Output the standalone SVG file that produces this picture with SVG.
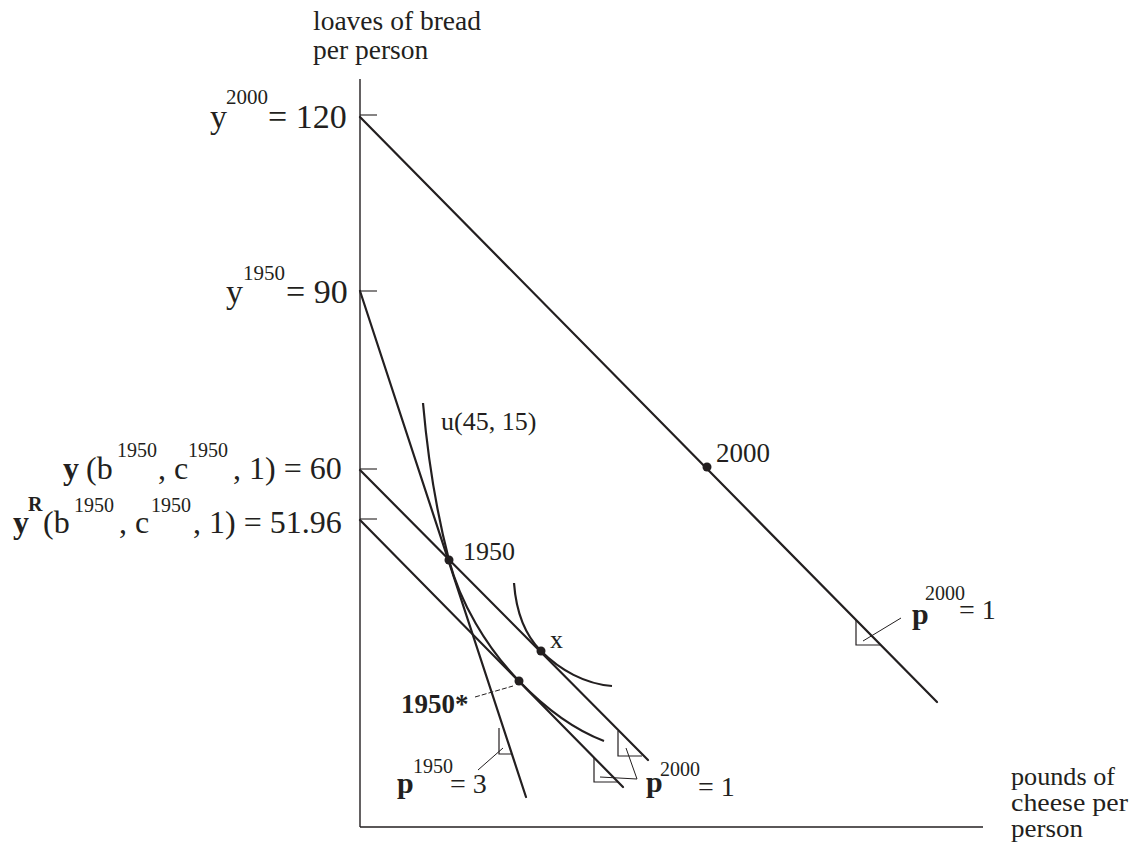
<svg xmlns="http://www.w3.org/2000/svg" width="1133" height="846" viewBox="0 0 1133 846">
<style>
text{font-family:"Liberation Serif","Times New Roman",serif;fill:#231f20}
.ax{stroke:#231f20;stroke-width:1.4;fill:none}
.tk{stroke:#231f20;stroke-width:1.1;fill:none}
.bl{stroke:#231f20;stroke-width:2.2;fill:none;stroke-linecap:round}
.ic{stroke:#231f20;stroke-width:2.2;fill:none}
.ra{stroke:#231f20;stroke-width:1.2;fill:none}
.ld{stroke:#231f20;stroke-width:1;fill:none}
.dot{fill:#231f20}
.b{font-weight:bold}
</style>
<rect width="1133" height="846" fill="#fff"/>
<g id="axes">
<line class="ax" x1="360" y1="79" x2="360" y2="827"/>
<line class="ax" x1="360" y1="827" x2="983" y2="827"/>
<line class="tk" x1="360" y1="115" x2="377" y2="115"/>
<line class="tk" x1="360" y1="291" x2="377" y2="291"/>
<line class="tk" x1="360" y1="469" x2="377" y2="469"/>
<line class="tk" x1="360" y1="519" x2="377" y2="519"/>
<text font-size="27.5"><tspan x="313" y="30">loaves of bread</tspan><tspan x="313" y="59">per person</tspan></text>
<text font-size="25"><tspan x="1011" y="785" textLength="104" lengthAdjust="spacingAndGlyphs">pounds of</tspan><tspan x="1011" y="811" textLength="117" lengthAdjust="spacingAndGlyphs">cheese per</tspan><tspan x="1011" y="837" textLength="72" lengthAdjust="spacingAndGlyphs">person</tspan></text>
</g>
<g id="axis-labels">
<text font-size="34"><tspan x="210" y="128">y</tspan><tspan x="226" y="104" font-size="21">2000</tspan><tspan x="268" y="128">= 120</tspan></text>
<text font-size="34"><tspan x="226" y="303">y</tspan><tspan x="243" y="280" font-size="21">1950</tspan><tspan x="286" y="303">= 90</tspan></text>
<text font-size="32"><tspan x="63" y="479" class="b">y</tspan><tspan x="86" y="479">(b</tspan><tspan x="117" y="457" font-size="20">1950</tspan><tspan x="158" y="479">, c</tspan><tspan x="188" y="457" font-size="20">1950</tspan><tspan x="233" y="479">, 1) = 60</tspan></text>
<text font-size="32"><tspan x="13" y="533" class="b">y</tspan><tspan x="28" y="511" font-size="20" class="b">R</tspan><tspan x="43" y="533">(b</tspan><tspan x="74" y="512" font-size="20">1950</tspan><tspan x="119" y="533">, c</tspan><tspan x="151" y="512" font-size="20">1950</tspan><tspan x="193" y="533">, 1) = 51.96</tspan></text>
</g>
<g id="connectors">
<line class="bl" x1="360" y1="117" x2="937" y2="702"/>
<line class="bl" x1="360" y1="291" x2="526" y2="797"/>
<line class="bl" x1="360" y1="470" x2="648" y2="760"/>
<line class="bl" x1="360" y1="520" x2="623" y2="787"/>
</g>
<g id="indifference-u">
<path class="ic" d="M423,403 C428,460 436,510 449,560 C460,602 486,647 519,681 C545,708 575,730 604,741"/>
<text font-size="26" x="441" y="430">u(45, 15)</text>
</g>
<g id="indifference-x">
<path class="ic" d="M514,583 C516,610 525,635 541,651 C560,670 585,684 612,686"/>
</g>
<g id="point-2000">
<circle class="dot" cx="707" cy="467" r="4.5"/>
<text font-size="27" x="716" y="462">2000</text>
</g>
<g id="point-1950">
<circle class="dot" cx="449" cy="560" r="4.5"/>
<text font-size="26" x="463" y="560">1950</text>
</g>
<g id="point-x">
<circle class="dot" cx="541" cy="651" r="4.5"/>
<text font-size="26" x="550" y="648">x</text>
</g>
<g id="point-1950star">
<circle class="dot" cx="519" cy="681" r="4.5"/>
<line class="ld" x1="475" y1="697" x2="513" y2="686" stroke-dasharray="5 2"/>
<text font-size="27" class="b" x="401" y="713">1950*</text>
</g>
<g id="price-2000-top">
<polyline class="ra" points="856,620 856,645 881,645"/>
<line class="ld" x1="863" y1="641" x2="901" y2="618"/>
<text font-size="30"><tspan x="912" y="624" class="b">p</tspan><tspan x="925" y="600" font-size="20">2000</tspan><tspan x="959" y="619" font-size="28">= 1</tspan></text>
</g>
<g id="price-1950">
<polyline class="ra" points="499,728 499,754 512,754"/>
<line class="ld" x1="503" y1="748" x2="478" y2="770"/>
<text font-size="30"><tspan x="397" y="793" class="b">p</tspan><tspan x="413" y="773" font-size="20">1950</tspan><tspan x="450" y="793" font-size="28">= 3</tspan></text>
</g>
<g id="price-2000-bottom">
<polyline class="ra" points="618,731 618,756 642,756"/>
<polyline class="ra" points="594,757 594,782 618,782"/>
<polyline class="ld" points="626,748 637,779 600,777"/>
<text font-size="30"><tspan x="646" y="792" class="b">p</tspan><tspan x="660" y="776" font-size="20">2000</tspan><tspan x="698" y="796" font-size="28">= 1</tspan></text>
</g>
</svg>
